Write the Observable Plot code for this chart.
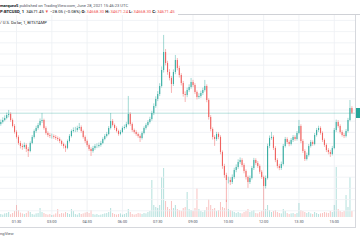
<!DOCTYPE html>
<html><head><meta charset="utf-8">
<script src="https://cdn.jsdelivr.net/npm/d3@7"></script>
<script src="https://cdn.jsdelivr.net/npm/@observablehq/plot@0.6"></script>
<style>
html,body{margin:0;padding:0;background:#fff;}
body{width:360px;height:240px;overflow:hidden;position:relative;font-family:Roboto,"Liberation Sans",sans-serif;}
.t{position:absolute;left:0;white-space:nowrap;line-height:5px;color:#131722;}
.r{color:#ef5350;}
.abs{position:absolute;}
</style></head><body>
<div class="t" style="top:2.5px;font-size:4.1px;color:#50535e"><b style="color:#131722">marquez5</b> published on TradingView.com, June 28, 2021 15:46:23 UTC</div>
<div class="t" style="top:8.5px;font-size:4.2px"><b>P:BTCUSD, 1</b> &nbsp;34671.45 <span class="r">▼</span> −28.05 (−0.08%) <b>O:</b> <span class="r">34668.30</span> <b>H:</b> <span class="r">34671.24</span> <b>L:</b> <span class="r">34668.30</span> <b>C:</b> <span class="r">34671.45</span></div>
<div class="abs" style="left:178px;top:14px;width:182px;height:1.3px;background:#cfd1d6"></div>
<div class="t" style="top:19.5px;font-size:4.1px;color:#131722">/ U.S. Dollar, 1, BITSTAMP</div>
<div id="vol" class="abs" style="left:0;top:15px"></div>
<div id="main" class="abs" style="left:0;top:15px"></div>
<div class="abs" style="left:355.3px;top:15px;width:0.7px;height:212px;background:#d6d8dd"></div>
<div class="abs" style="left:0;top:226.7px;width:356px;height:0.8px;background:#d6d8dd"></div>
<div id="plabel" class="abs" style="left:356px;width:4px;height:10px;background:#26a69a"></div>
<div class="t" style="top:230.5px;font-size:4.2px;color:#50535e">ngView</div>
<script>
// 5-minute candles starting 00:50 UTC, 28 June 2021
const startTime = "2021-06-28T00:50:00Z";
const candleMinutes = 5;
const openPrices = [
34570,34589,34607,34625,34651,34660,34607,34553,34500,34455,
34401,34375,34366,34384,34348,34330,34401,34455,34508,34535,
34562,34598,34607,34535,34491,34473,34464,34464,34455,34446,
34437,34419,34392,34375,34357,34419,34464,34508,34517,34517,
34535,34544,34508,34455,34419,34384,34348,34330,34357,34375,
34375,34384,34401,34437,34464,34482,34535,34598,34562,34535,
34508,34482,34500,34535,34544,34571,34660,34571,34517,34500,
34482,34464,34446,34491,34535,34562,34589,34616,34669,34732,
34794,34839,34910,35053,35214,35116,35035,34982,34928,35035,
35142,35071,35009,34937,34839,34830,34875,34901,34946,34919,
34857,34812,34821,34848,34875,34910,34785,34633,34526,34455,
34437,34482,34455,34321,34196,34116,34071,34071,34053,34098,
34160,34187,34232,34250,34205,34151,34098,34053,34089,34178,
34250,34223,34196,34143,34098,34017,34089,34375,34446,34455,
34357,34250,34196,34178,34214,34375,34437,34410,34392,34428,
34455,34437,34491,34553,34419,34330,34259,34294,34375,34410,
34392,34473,34517,34535,34491,34428,34384,34339,34321,34303,
34357,34517,34589,34553,34500,34473,34464,34508,34607,34714];
const closePrices = [
34589,34607,34625,34651,34660,34607,34553,34500,34455,34401,
34375,34366,34384,34348,34330,34401,34455,34508,34535,34562,
34598,34607,34535,34491,34473,34464,34464,34455,34446,34437,
34419,34392,34375,34357,34419,34464,34508,34517,34517,34535,
34544,34508,34455,34419,34384,34348,34330,34357,34375,34375,
34384,34401,34437,34464,34482,34535,34598,34562,34535,34508,
34482,34500,34535,34544,34571,34660,34571,34517,34500,34482,
34464,34446,34491,34535,34562,34589,34616,34669,34732,34794,
34839,34910,35053,35214,35116,35035,34982,34928,35035,35142,
35071,35009,34937,34839,34830,34875,34901,34946,34919,34857,
34812,34821,34848,34875,34910,34785,34633,34526,34455,34437,
34482,34455,34321,34196,34116,34071,34071,34053,34098,34160,
34187,34232,34250,34205,34151,34098,34053,34089,34178,34250,
34223,34196,34143,34098,34017,34089,34375,34446,34455,34357,
34250,34196,34178,34214,34375,34437,34410,34392,34428,34455,
34437,34491,34553,34419,34330,34259,34294,34375,34410,34392,
34473,34517,34535,34491,34428,34384,34339,34321,34303,34357,
34517,34589,34553,34500,34473,34464,34508,34607,34714,34671.45];
const highPrices = [
34610,34630,34648,34672,34696,34675,34620,34570,34515,34470,
34420,34395,34405,34398,34365,34415,34472,34522,34555,34580,
34620,34669,34618,34550,34505,34490,34485,34478,34472,34460,
34452,34430,34405,34388,34432,34480,34522,34540,34545,34555,
34580,34558,34520,34468,34432,34395,34362,34375,34392,34398,
34405,34420,34452,34480,34500,34552,34669,34615,34575,34550,
34520,34518,34550,34565,34590,34821,34675,34585,34530,34515,
34495,34478,34505,34550,34578,34605,34635,34688,34755,34818,
34865,34935,35085,35366,35240,35135,35060,35000,35058,35187,
35160,35090,35025,34955,34862,34895,34925,34982,34965,34935,
34870,34845,34868,34895,34964,34925,34800,34650,34540,34470,
34500,34498,34470,34335,34215,34135,34100,34095,34120,34180,
34210,34255,34272,34265,34220,34165,34110,34110,34195,34268,
34265,34240,34210,34160,34110,34110,34395,34468,34500,34470,
34372,34265,34215,34235,34392,34455,34452,34425,34445,34472,
34470,34508,34607,34568,34435,34345,34315,34392,34428,34425,
34490,34535,34555,34550,34505,34442,34398,34355,34340,34375,
34535,34610,34605,34568,34515,34490,34525,34625,34785,34730];
const lowPrices = [
34555,34575,34595,34612,34630,34590,34540,34485,34440,34385,
34352,34340,34350,34320,34276,34318,34390,34440,34492,34520,
34550,34580,34520,34475,34455,34445,34440,34438,34428,34418,
34400,34375,34352,34321,34345,34405,34450,34495,34498,34500,
34520,34492,34440,34400,34366,34330,34285,34315,34340,34355,
34360,34368,34390,34425,34450,34470,34522,34548,34518,34495,
34466,34470,34488,34520,34530,34560,34555,34500,34485,34465,
34448,34410,34432,34478,34520,34548,34575,34600,34650,34715,
34775,34820,34895,35030,35095,35010,34960,34848,34910,35015,
35050,34985,34915,34815,34767,34810,34858,34885,34900,34838,
34790,34795,34805,34830,34860,34765,34610,34505,34432,34375,
34420,34435,34300,34170,34090,33874,34040,34025,34035,34080,
34140,34170,34215,34185,34130,34075,34000,34035,34075,34160,
34205,34178,34125,34080,33892,33995,34075,34355,34430,34338,
34230,34175,34158,34160,34200,34360,34392,34372,34378,34410,
34420,34422,34478,34400,34312,34240,34245,34280,34360,34375,
34380,34458,34500,34475,34410,34366,34320,34300,34276,34290,
34345,34500,34538,34485,34458,34445,34450,34495,34595,34660];
const volumes = [
15,12,18,20,25,14,20,30,60,35,
22,18,15,20,30,25,15,12,18,20,
45,25,20,15,12,15,10,12,18,40,
15,20,18,25,20,15,40,30,15,12,
20,15,18,22,25,20,35,15,12,15,
10,12,15,18,20,25,45,20,15,12,
15,18,12,15,20,40,25,15,12,15,
20,18,15,20,18,25,30,185,60,50,
45,60,200,245,80,50,40,80,45,60,
40,35,30,45,50,125,40,35,30,45,
145,40,30,25,35,50,90,60,40,45,
30,35,75,50,45,85,40,35,30,25,
20,25,20,18,25,30,40,25,30,35,
20,18,25,30,85,40,60,35,25,30,
35,25,20,18,40,30,20,15,18,20,
15,20,70,35,30,25,20,25,18,15,
25,20,15,18,20,25,22,20,30,25,
60,250,40,30,25,30,110,50,200,30];
const tickLabels = ["01:30","03:00","04:30","06:00","07:30","09:00","10:30","12:00","13:30","15:00"];
const gridPrices = [33800,33900,34000,34100,34200,34300,34400,34500,34600,34700,34800,34900,35000,35100,35200,35300,35400,35500];
const lastPrice = 34671.45;

const up = "#26a69a", down = "#ef5350", gridColor = "#eef0f4";
const t0 = Date.parse(startTime);
const candles = openPrices.map((o, i) => ({
  t: new Date(t0 + i * candleMinutes * 60000),
  o, c: closePrices[i], h: highPrices[i], l: lowPrices[i], v: volumes[i]
}));
const tickDates = tickLabels.map(s => new Date(`2021-06-28T${s}:00Z`));
const xDomain = [new Date("2021-06-28T00:49:12Z"), new Date("2021-06-28T15:54:54Z")];
const W = 360, H = 215, MB = 13, MR = 4.7;
const isUp = d => d.c >= d.o;
const isDown = d => d.c < d.o;

const vol = Plot.plot({
  width: W, height: H, marginTop: 0, marginBottom: MB, marginLeft: 0, marginRight: MR,
  style: {background: "transparent"},
  x: {type: "utc", domain: xDomain, axis: null},
  y: {domain: [0, 1010], axis: null},
  marks: [
    Plot.ruleX(tickDates, {stroke: gridColor, strokeWidth: 0.8}),
    Plot.ruleX(candles, {filter: isUp, x: "t", y: "v", stroke: up, strokeOpacity: 0.35, strokeWidth: 1}),
    Plot.ruleX(candles, {filter: isDown, x: "t", y: "v", stroke: down, strokeOpacity: 0.35, strokeWidth: 1})
  ]
});
document.getElementById("vol").appendChild(vol);

const main = Plot.plot({
  width: W, height: H, marginTop: 0, marginBottom: MB, marginLeft: 0, marginRight: MR,
  style: {background: "transparent", color: "#4c525e", fontFamily: "Roboto, 'Liberation Sans', sans-serif", overflow: "visible"},
  x: {type: "utc", domain: xDomain},
  y: {domain: [33740, 35544], axis: null},
  marks: [
    Plot.ruleY(gridPrices, {stroke: gridColor, strokeWidth: 0.8}),
    Plot.ruleY([lastPrice], {stroke: up, strokeOpacity: 0.4, strokeWidth: 0.8}),
    Plot.ruleX(candles, {filter: isUp, x: "t", y1: "l", y2: "h", stroke: up, strokeOpacity: 0.85, strokeWidth: 0.5}),
    Plot.ruleX(candles, {filter: isDown, x: "t", y1: "l", y2: "h", stroke: down, strokeOpacity: 0.85, strokeWidth: 0.5}),
    Plot.ruleX(candles, {filter: isUp, x: "t", y1: "o", y2: "c", stroke: up, strokeOpacity: 0.85, strokeWidth: 1.1}),
    Plot.ruleX(candles, {filter: isDown, x: "t", y1: "o", y2: "c", stroke: down, strokeOpacity: 0.85, strokeWidth: 1.1}),
    Plot.axisX(tickDates, {tickSize: 0, tickPadding: 3.2, tickFormat: d3.utcFormat("%H:%M"), fontSize: 3.8, label: null})
  ]
});
document.getElementById("main").appendChild(main);
const yPos = main.scale("y").apply(lastPrice);
document.getElementById("plabel").style.top = (15 + yPos - 5) + "px";
</script>
</body></html>
